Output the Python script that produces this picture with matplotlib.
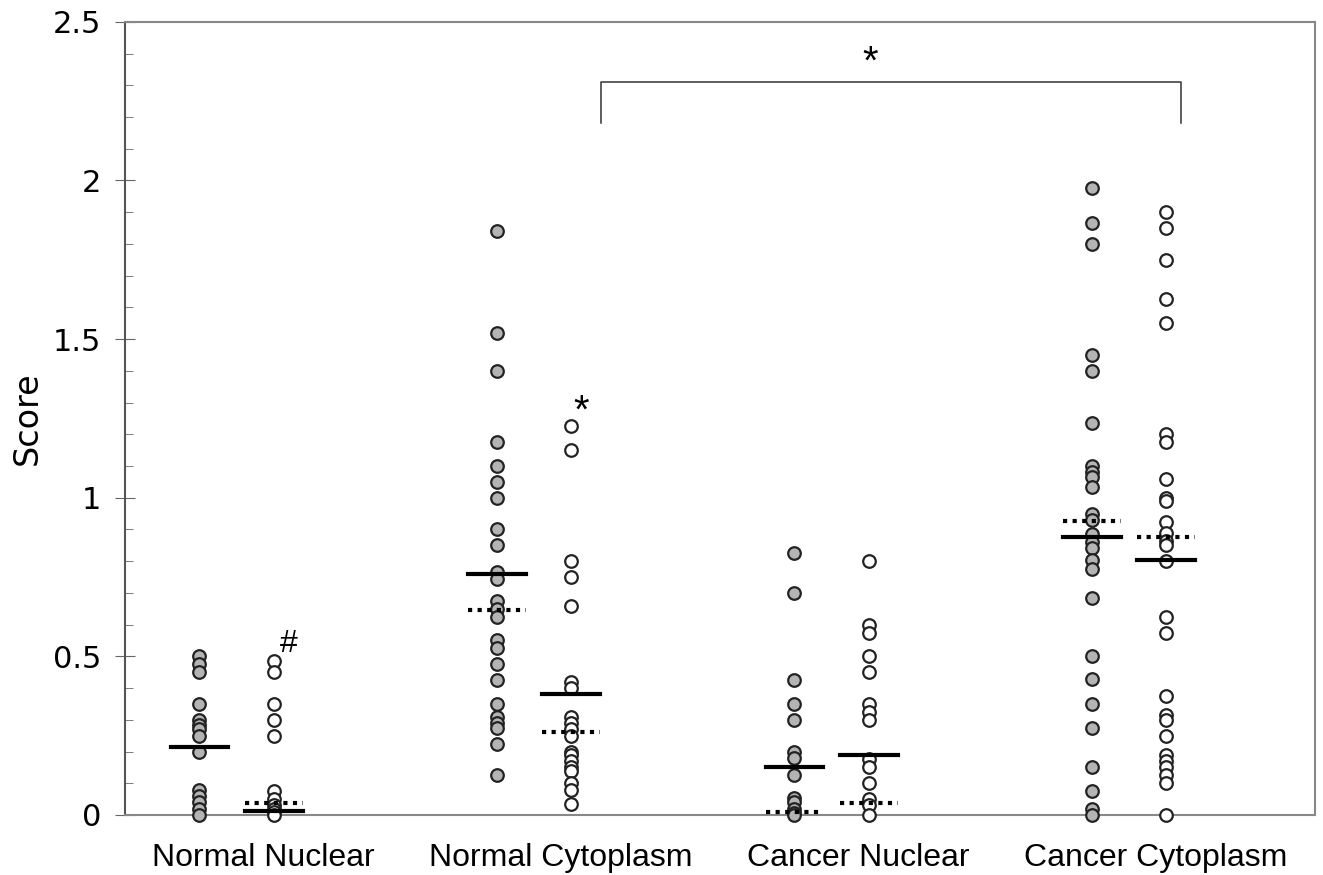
import numpy as np
import matplotlib.pyplot as plt
from matplotlib.ticker import MultipleLocator

categories = ["Normal Nuclear", "Normal Cytoplasm", "Cancer Nuclear", "Cancer Cytoplasm"]

# grey (filled) and white (open) series per category
nn_grey = [0.50, 0.475, 0.45, 0.35, 0.30, 0.285, 0.27, 0.25, 0.20, 0.08, 0.06, 0.04, 0.02, 0.0]
nn_white = [0.485, 0.45, 0.35, 0.30, 0.25, 0.075, 0.05, 0.03, 0.02, 0.01, 0.0]
nc_grey = [1.84, 1.52, 1.40, 1.175, 1.10, 1.05, 1.0, 0.90, 0.85, 0.765, 0.745, 0.675, 0.65,
           0.625, 0.55, 0.525, 0.475, 0.425, 0.35, 0.31, 0.29, 0.275, 0.225, 0.125]
nc_white = [1.225, 1.15, 0.80, 0.75, 0.66, 0.42, 0.40, 0.31, 0.29, 0.27, 0.25, 0.20, 0.19,
            0.17, 0.15, 0.14, 0.10, 0.08, 0.035]
cn_grey = [0.825, 0.70, 0.425, 0.35, 0.30, 0.20, 0.18, 0.125, 0.055, 0.04, 0.02, 0.005, 0.0]
cn_white = [0.80, 0.60, 0.575, 0.50, 0.45, 0.35, 0.325, 0.30, 0.175, 0.15, 0.10, 0.05, 0.03, 0.0]
cc_grey = [1.975, 1.865, 1.80, 1.45, 1.40, 1.235, 1.10, 1.08, 1.065, 1.035, 0.95, 0.93, 0.885,
           0.86, 0.84, 0.805, 0.775, 0.685, 0.50, 0.43, 0.35, 0.275, 0.15, 0.075, 0.02, 0.0]
cc_white = [1.90, 1.85, 1.75, 1.625, 1.55, 1.20, 1.175, 1.06, 1.0, 0.99, 0.925, 0.89, 0.865,
            0.85, 0.80, 0.625, 0.575, 0.375, 0.315, 0.30, 0.25, 0.19, 0.17, 0.15, 0.125, 0.10, 0.0]

grey_sets = [nn_grey, nc_grey, cn_grey, cc_grey]
white_sets = [nn_white, nc_white, cn_white, cc_white]

# solid = mean, dotted = median
grey_mean = [0.215, 0.76, 0.15, 0.877]
white_mean = [0.012, 0.382, 0.19, 0.803]
grey_median = [None, 0.647, 0.01, 0.927]
white_median = [0.038, 0.262, 0.037, 0.877]

fig = plt.figure(figsize=(13.23, 8.75), dpi=100)
ax = fig.add_axes([0.0945, 0.0686, 0.8995, 0.9064])

edge = "#222222"
hw = 0.097
for i in range(4):
    xg, xw = i + 0.25, i + 0.5
    ax.scatter([xg] * len(grey_sets[i]), grey_sets[i], s=82, facecolor="#b4b4b4",
               edgecolor=edge, linewidth=1.6, zorder=3, clip_on=False)
    ax.scatter([xw] * len(white_sets[i]), white_sets[i], s=82, facecolor="white",
               edgecolor=edge, linewidth=1.6, zorder=3, clip_on=False)
    ax.plot([xg - hw, xg + hw], [grey_mean[i]] * 2, color="black", lw=3, zorder=4)
    ax.plot([xw - hw, xw + hw], [white_mean[i]] * 2, color="black", lw=3, zorder=4)
    if grey_median[i] is not None:
        ax.plot([xg - hw, xg + hw], [grey_median[i]] * 2, color="black", lw=3,
                ls=(0, (1, 1.3)), zorder=4)
    ax.plot([xw - hw, xw + hw], [white_median[i]] * 2, color="black", lw=3,
            ls=(0, (1, 1.3)), zorder=4)

# significance marks
ax.text(0.55, 0.54, "#", fontsize=23, family="Liberation Sans", ha="center", va="center")
ax.text(1.535, 1.27, "*", fontsize=29, family="Liberation Sans", ha="center", va="center")
ax.plot([1.6, 1.6, 3.55, 3.55], [2.18, 2.31, 2.31, 2.18], color="#333333", lw=1.1)
ax.text(2.505, 2.37, "*", fontsize=29, family="Liberation Sans", ha="center", va="center")

ax.set_xlim(0, 4)
ax.set_ylim(0, 2.5)
ax.set_xticks([i + 0.465 for i in range(4)])
ax.set_xticklabels(categories, fontsize=23, family="Liberation Sans")
ax.tick_params(axis="x", length=0, pad=20)
ax.yaxis.set_major_locator(MultipleLocator(0.5))
ax.yaxis.set_minor_locator(MultipleLocator(0.1))
ax.set_yticks([0, 0.5, 1, 1.5, 2, 2.5])
ax.set_yticklabels(["0", "0.5", "1", "1.5", "2", "2.5"], fontsize=22, family="DejaVu Sans")
ax.tick_params(axis="y", which="major", direction="inout", length=14, color="#666666", pad=10)
ax.tick_params(axis="y", which="minor", direction="in", length=6, color="#666666")
ax.set_ylabel("Score", fontsize=24, labelpad=7)

for s in ax.spines.values():
    s.set_color("#888888")
    s.set_linewidth(1.5)
ax.spines["left"].set_color("#555555")

fig.savefig("out.png", dpi=100)
